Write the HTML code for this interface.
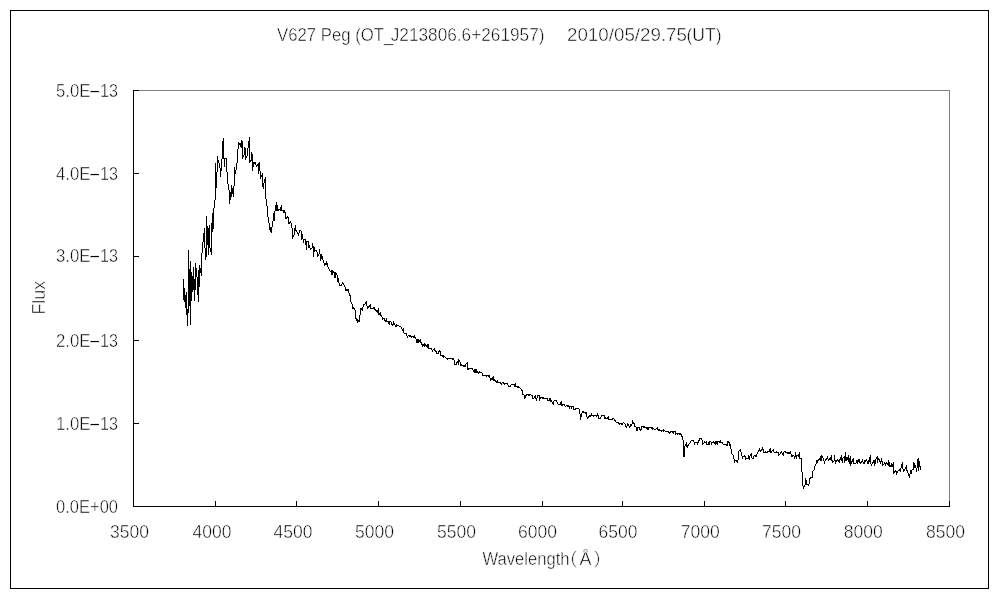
<!DOCTYPE html>
<html lang="en">
<head>
<meta charset="utf-8">
<title>V627 Peg spectrum</title>
<style>
html,body{margin:0;padding:0;background:#fff;}
body{width:1000px;height:600px;overflow:hidden;}
svg{display:block;will-change:transform;}
text{font-family:"Liberation Sans", "IPAGothic", sans-serif;font-size:18px;fill:#000;stroke:#fff;stroke-width:0.5px;paint-order:fill stroke;}
</style>
</head>
<body>
<svg width="1000" height="600" viewBox="0 0 1000 600">
<rect x="0" y="0" width="1000" height="600" fill="#fff"/>
<!-- outer chart border -->
<rect x="10.5" y="10.5" width="978" height="578" fill="none" stroke="#000" stroke-width="1" shape-rendering="crispEdges"/>
<!-- plot area border (grey top/right) -->
<path d="M133 90.5H949.5V506" fill="none" stroke="#808080" stroke-width="1" shape-rendering="crispEdges"/>
<!-- axes -->
<path d="M133.5 90V507M133 506.5H950" fill="none" stroke="#000" stroke-width="1" shape-rendering="crispEdges"/>
<path d="M215.5 501V506M296.5 501V506M378.5 501V506M460.5 501V506M542.5 501V506M622.5 501V506M704.5 501V506M785.5 501V506M867.5 501V506M949.5 501V506M134 90.5H139M134 173.5H139M134 256.5H139M134 340.5H139M134 423.5H139" fill="none" stroke="#000" stroke-width="1" shape-rendering="crispEdges"/>
<!-- title -->
<text y="41"><tspan x="277" textLength="116.3" lengthAdjust="spacingAndGlyphs">V627 Peg (OT_</tspan><tspan x="390.7" textLength="153.8" lengthAdjust="spacingAndGlyphs">J213806.6+261957)</tspan></text>
<text x="567" y="41" textLength="120" lengthAdjust="spacingAndGlyphs">2010/05/29.75</text>
<text x="686.5" y="41" textLength="35" lengthAdjust="spacingAndGlyphs">(UT)</text>
<!-- axis labels -->
<g><text x="110.0" y="538" textLength="39" lengthAdjust="spacingAndGlyphs">3500</text><text x="192.5" y="538" textLength="39" lengthAdjust="spacingAndGlyphs">4000</text><text x="273.5" y="538" textLength="39" lengthAdjust="spacingAndGlyphs">4500</text><text x="355.0" y="538" textLength="39" lengthAdjust="spacingAndGlyphs">5000</text><text x="437.0" y="538" textLength="39" lengthAdjust="spacingAndGlyphs">5500</text><text x="518.0" y="538" textLength="39" lengthAdjust="spacingAndGlyphs">6000</text><text x="598.5" y="538" textLength="39" lengthAdjust="spacingAndGlyphs">6500</text><text x="680.8" y="538" textLength="39" lengthAdjust="spacingAndGlyphs">7000</text><text x="762.0" y="538" textLength="39" lengthAdjust="spacingAndGlyphs">7500</text><text x="843.8" y="538" textLength="39" lengthAdjust="spacingAndGlyphs">8000</text><text x="926.0" y="538" textLength="39" lengthAdjust="spacingAndGlyphs">8500</text></g>
<g><text x="56" y="513" textLength="62" lengthAdjust="spacingAndGlyphs">0.0E+00</text><text y="430"><tspan x="56" textLength="34.5" lengthAdjust="spacingAndGlyphs">1.0E</tspan><tspan x="88.3" textLength="13" lengthAdjust="spacingAndGlyphs">-</tspan><tspan x="100" textLength="18" lengthAdjust="spacingAndGlyphs">13</tspan></text><text y="347"><tspan x="56" textLength="34.5" lengthAdjust="spacingAndGlyphs">2.0E</tspan><tspan x="88.3" textLength="13" lengthAdjust="spacingAndGlyphs">-</tspan><tspan x="100" textLength="18" lengthAdjust="spacingAndGlyphs">13</tspan></text><text y="262"><tspan x="56" textLength="34.5" lengthAdjust="spacingAndGlyphs">3.0E</tspan><tspan x="88.3" textLength="13" lengthAdjust="spacingAndGlyphs">-</tspan><tspan x="100" textLength="18" lengthAdjust="spacingAndGlyphs">13</tspan></text><text y="180"><tspan x="56" textLength="34.5" lengthAdjust="spacingAndGlyphs">4.0E</tspan><tspan x="88.3" textLength="13" lengthAdjust="spacingAndGlyphs">-</tspan><tspan x="100" textLength="18" lengthAdjust="spacingAndGlyphs">13</tspan></text><text y="97"><tspan x="56" textLength="34.5" lengthAdjust="spacingAndGlyphs">5.0E</tspan><tspan x="88.3" textLength="13" lengthAdjust="spacingAndGlyphs">-</tspan><tspan x="100" textLength="18" lengthAdjust="spacingAndGlyphs">13</tspan></text></g>
<text x="482.5" y="564.5" textLength="87" lengthAdjust="spacingAndGlyphs">Wavelength</text>
<text x="560" y="565.5">（</text>
<text x="579.5" y="564.5" textLength="12" lengthAdjust="spacingAndGlyphs">Å</text>
<text x="593" y="565.5">）</text>
<text transform="translate(45 314.5) rotate(-90)" textLength="33.5" lengthAdjust="spacingAndGlyphs">Flux</text>
<!-- spectrum -->
<path d="M183.5 279V300M184.5 288V302M185.5 295V308M186.5 292V315M187.5 309V326M188.5 250V313M189.5 269V306M190.5 261V325M191.5 272V301M192.5 276V292M193.5 267V290M194.5 279V301M195.5 263V290M196.5 268V277M197.5 277V295M198.5 270V302M199.5 265V287M200.5 268V273M201.5 253V276M202.5 242V253M203.5 233V242M204.5 228V248M205.5 248V260M206.5 216V257M207.5 226V245M208.5 228V255M209.5 225V248M210.5 248V252M211.5 223V255M212.5 213V232M213.5 208V229M214.5 200V208M215.5 163V200M216.5 172V188M217.5 156V172M218.5 160V163M219.5 163V168M220.5 168V177M221.5 159V171M222.5 141V159M223.5 138V159M224.5 158V167M225.5 158V159M226.5 158V172M227.5 172V184M228.5 184V190M229.5 190V204M230.5 192V200M231.5 185V197M232.5 188V194M233.5 186V197M234.5 167V186M235.5 170V174M236.5 163V170M237.5 149V163M238.5 142V149M239.5 143V145M240.5 143V147M241.5 140V148M242.5 141V159M243.5 155V157M244.5 147V155M245.5 148V160M246.5 156V158M247.5 148V156M248.5 141V148M249.5 137V163M250.5 160V162M251.5 152V161M252.5 154V171M253.5 162V167M254.5 162V164M255.5 162V165M256.5 165V167M257.5 164V166M258.5 163V174M259.5 162V171M260.5 171V179M261.5 175V177M262.5 173V187M263.5 183V189M264.5 179V183M265.5 177V199M266.5 199V206M267.5 206V217M268.5 217V223M269.5 223V230M270.5 227V232M271.5 227V233M272.5 221V227M273.5 213V221M274.5 211V221M275.5 205V211M276.5 202V211M277.5 205V211M278.5 209V211M279.5 209V210M280.5 207V211M281.5 205V211M282.5 210V211M283.5 210V213M284.5 210V213M285.5 212V219M286.5 217V219M287.5 216V218M288.5 217V224M289.5 222V224M290.5 221V223M291.5 223V228M292.5 228V239M293.5 235V237M294.5 228V235M295.5 225V231M296.5 230V232M297.5 232V234M298.5 233V236M299.5 230V233M300.5 230V231M301.5 231V240M302.5 234V239M303.5 239V243M304.5 239V240M305.5 239V245M306.5 241V250M307.5 241V242M308.5 241V248M309.5 245V248M310.5 248V250M311.5 248V249M312.5 243V248M313.5 246V257M314.5 247V252M315.5 250V251M316.5 250V252M317.5 252V257M318.5 254V256M319.5 249V254M320.5 254V261M321.5 254V259M322.5 256V260M323.5 260V263M324.5 263V266M325.5 263V265M326.5 261V265M327.5 263V267M328.5 267V269M329.5 269V271M330.5 271V272M331.5 270V275M332.5 270V275M333.5 271V273M334.5 272V278M335.5 272V278M336.5 273V275M337.5 275V282M338.5 278V283M339.5 283V286M340.5 285V286M341.5 284V286M342.5 282V284M343.5 283V285M344.5 285V287M345.5 287V291M346.5 289V291M347.5 289V291M348.5 289V293M349.5 293V296M350.5 295V302M351.5 302V304M352.5 304V309M353.5 307V309M354.5 308V310M355.5 310V319M356.5 318V321M357.5 319V323M358.5 320V322M359.5 315V322M360.5 308V315M361.5 308V310M362.5 307V311M363.5 304V307M364.5 304V305M365.5 302V304M366.5 301V306M367.5 306V309M368.5 306V308M369.5 305V307M370.5 304V309M371.5 308V309M372.5 308V309M373.5 307V309M374.5 307V310M375.5 309V311M376.5 310V312M377.5 310V313M378.5 308V315M379.5 313V315M380.5 312V316M381.5 315V317M382.5 317V320M383.5 318V319M384.5 318V321M385.5 320V322M386.5 318V322M387.5 321V322M388.5 321V324M389.5 321V325M390.5 321V322M391.5 322V325M392.5 324V326M393.5 321V325M394.5 323V325M395.5 325V327M396.5 324V327M397.5 325V326M398.5 325V326M399.5 326V327M400.5 326V327M401.5 327V329M402.5 329V331M403.5 328V333M404.5 333V334M405.5 333V334M406.5 333V336M407.5 336V338M408.5 335V336M409.5 335V337M410.5 335V337M411.5 336V338M412.5 336V337M413.5 336V338M414.5 335V338M415.5 337V339M416.5 339V343M417.5 339V343M418.5 339V343M419.5 340V342M420.5 339V343M421.5 342V345M422.5 344V347M423.5 344V346M424.5 343V347M425.5 344V346M426.5 345V347M427.5 344V348M428.5 344V349M429.5 348V349M430.5 348V349M431.5 348V350M432.5 350V352M433.5 349V350M434.5 348V351M435.5 350V352M436.5 351V354M437.5 353V354M438.5 351V354M439.5 350V352M440.5 351V356M441.5 355V356M442.5 355V357M443.5 355V358M444.5 356V357M445.5 357V358M446.5 358V359M447.5 358V360M448.5 358V359M449.5 358V359M450.5 358V359M451.5 358V359M452.5 358V360M453.5 358V360M454.5 360V365M455.5 364V365M456.5 362V365M457.5 361V363M458.5 359V365M459.5 360V362M460.5 362V366M461.5 364V366M462.5 365V366M463.5 365V367M464.5 365V367M465.5 364V367M466.5 363V364M467.5 362V370M468.5 368V370M469.5 368V369M470.5 368V369M471.5 368V369M472.5 368V370M473.5 370V372M474.5 369V373M475.5 369V373M476.5 369V373M477.5 371V373M478.5 372V374M479.5 371V373M480.5 372V373M481.5 372V373M482.5 373V376M483.5 375V376M484.5 375V376M485.5 375V376M486.5 375V377M487.5 375V376M488.5 375V377M489.5 375V378M490.5 378V381M491.5 378V380M492.5 377V380M493.5 376V381M494.5 379V381M495.5 380V382M496.5 381V383M497.5 380V383M498.5 382V383M499.5 382V383M500.5 382V384M501.5 383V385M502.5 382V383M503.5 382V384M504.5 383V385M505.5 383V384M506.5 383V384M507.5 383V385M508.5 385V387M509.5 386V387M510.5 385V387M511.5 384V385M512.5 384V385M513.5 384V385M514.5 384V387M515.5 383V387M516.5 386V387M517.5 386V388M518.5 386V388M519.5 387V388M520.5 388V389M521.5 389V391M522.5 390V395M523.5 394V395M524.5 395V399M525.5 395V398M526.5 394V396M527.5 394V395M528.5 394V396M529.5 394V396M530.5 394V395M531.5 395V396M532.5 395V399M533.5 398V399M534.5 396V398M535.5 395V399M536.5 398V401M537.5 395V398M538.5 395V396M539.5 395V401M540.5 397V399M541.5 397V398M542.5 397V399M543.5 397V399M544.5 398V399M545.5 398V399M546.5 398V399M547.5 398V401M548.5 400V401M549.5 398V401M550.5 398V402M551.5 400V402M552.5 402V404M553.5 401V405M554.5 400V401M555.5 400V401M556.5 400V402M557.5 402V404M558.5 404V405M559.5 404V405M560.5 402V405M561.5 401V406M562.5 404V406M563.5 404V405M564.5 404V406M565.5 406V407M566.5 405V406M567.5 405V407M568.5 405V407M569.5 406V409M570.5 406V407M571.5 406V409M572.5 406V407M573.5 406V410M574.5 409V410M575.5 408V410M576.5 408V409M577.5 408V409M578.5 408V409M579.5 409V414M580.5 414V420M581.5 413V417M582.5 411V413M583.5 411V413M584.5 412V413M585.5 412V414M586.5 412V417M587.5 417V419M588.5 416V418M589.5 415V417M590.5 415V417M591.5 413V416M592.5 415V416M593.5 415V417M594.5 415V416M595.5 415V416M596.5 415V417M597.5 413V416M598.5 415V419M599.5 418V419M600.5 417V419M601.5 415V417M602.5 415V416M603.5 415V416M604.5 415V419M605.5 417V419M606.5 418V419M607.5 417V419M608.5 416V420M609.5 419V420M610.5 419V420M611.5 419V420M612.5 418V420M613.5 418V419M614.5 419V421M615.5 420V422M616.5 422V423M617.5 422V423M618.5 422V424M619.5 423V425M620.5 423V424M621.5 423V425M622.5 423V425M623.5 422V423M624.5 423V424M625.5 424V427M626.5 426V428M627.5 423V426M628.5 424V426M629.5 426V428M630.5 424V427M631.5 424V426M632.5 420V424M633.5 422V424M634.5 423V427M635.5 426V427M636.5 427V431M637.5 427V431M638.5 427V428M639.5 427V430M640.5 429V431M641.5 426V430M642.5 426V427M643.5 426V428M644.5 426V428M645.5 427V428M646.5 427V429M647.5 427V430M648.5 427V430M649.5 427V428M650.5 427V428M651.5 427V429M652.5 427V430M653.5 428V429M654.5 429V430M655.5 429V430M656.5 428V429M657.5 427V430M658.5 429V431M659.5 429V431M660.5 430V431M661.5 430V432M662.5 430V431M663.5 429V432M664.5 430V431M665.5 431V432M666.5 431V432M667.5 431V432M668.5 431V433M669.5 432V434M670.5 431V433M671.5 431V432M672.5 431V433M673.5 431V434M674.5 431V432M675.5 431V435M676.5 433V434M677.5 433V435M678.5 433V434M679.5 433V435M680.5 433V435M681.5 434V437M682.5 436V440M683.5 440V457M684.5 446V457M685.5 444V446M686.5 442V447M687.5 445V448M688.5 444V446M689.5 443V444M690.5 441V443M691.5 440V441M692.5 440V441M693.5 440V442M694.5 442V445M695.5 442V443M696.5 442V443M697.5 442V445M698.5 440V443M699.5 438V441M700.5 438V439M701.5 438V440M702.5 440V445M703.5 443V444M704.5 441V443M705.5 442V443M706.5 441V445M707.5 444V445M708.5 442V445M709.5 441V445M710.5 441V442M711.5 442V445M712.5 442V443M713.5 441V443M714.5 442V444M715.5 441V445M716.5 441V444M717.5 441V445M718.5 441V442M719.5 441V443M720.5 440V443M721.5 442V443M722.5 442V444M723.5 444V445M724.5 444V445M725.5 444V445M726.5 444V446M727.5 441V446M728.5 441V443M729.5 442V446M730.5 444V449M731.5 449V454M732.5 454V455M733.5 455V459M734.5 459V463M735.5 460V461M736.5 460V462M737.5 460V463M738.5 451V460M739.5 450V451M740.5 449V452M741.5 452V456M742.5 456V459M743.5 456V457M744.5 455V457M745.5 456V460M746.5 458V459M747.5 458V459M748.5 455V459M749.5 456V460M750.5 454V456M751.5 453V458M752.5 458V459M753.5 456V459M754.5 455V456M755.5 455V457M756.5 454V457M757.5 452V454M758.5 450V452M759.5 448V451M760.5 450V452M761.5 449V451M762.5 447V450M763.5 449V453M764.5 452V453M765.5 451V453M766.5 452V453M767.5 451V453M768.5 451V452M769.5 449V452M770.5 448V453M771.5 451V453M772.5 450V451M773.5 449V452M774.5 452V453M775.5 452V453M776.5 451V453M777.5 452V453M778.5 452V456M779.5 454V455M780.5 452V454M781.5 451V453M782.5 453V455M783.5 452V456M784.5 451V452M785.5 451V453M786.5 452V453M787.5 452V454M788.5 452V454M789.5 452V454M790.5 451V454M791.5 454V457M792.5 455V457M793.5 455V456M794.5 456V459M795.5 452V457M796.5 455V459M797.5 455V456M798.5 454V457M799.5 452V459M800.5 458V459M801.5 458V472M802.5 472V486M803.5 486V489M804.5 485V487M805.5 478V485M806.5 480V485M807.5 484V485M808.5 484V486M809.5 478V484M810.5 477V479M811.5 477V478M812.5 471V478M813.5 470V471M814.5 466V470M815.5 464V466M816.5 460V464M817.5 460V463M818.5 459V461M819.5 458V460M820.5 456V461M821.5 455V461M822.5 456V458M823.5 458V461M824.5 461V464M825.5 459V461M826.5 458V460M827.5 456V459M828.5 459V461M829.5 458V460M830.5 457V460M831.5 455V461M832.5 460V463M833.5 461V462M834.5 455V461M835.5 460V464M836.5 460V462M837.5 459V461M838.5 460V462M839.5 459V463M840.5 457V460M841.5 455V461M842.5 458V463M843.5 457V458M844.5 456V463M845.5 452V461M846.5 457V461M847.5 457V460M848.5 455V462M849.5 458V464M850.5 456V466M851.5 461V464M852.5 459V462M853.5 458V464M854.5 463V464M855.5 463V464M856.5 460V463M857.5 460V464M858.5 459V462M859.5 459V463M860.5 462V464M861.5 461V463M862.5 459V462M863.5 462V464M864.5 460V464M865.5 460V462M866.5 459V461M867.5 461V464M868.5 460V464M869.5 457V462M870.5 455V464M871.5 464V466M872.5 462V464M873.5 460V463M874.5 460V466M875.5 459V464M876.5 457V459M877.5 456V463M878.5 458V460M879.5 459V462M880.5 461V464M881.5 458V462M882.5 461V466M883.5 464V465M884.5 462V464M885.5 463V466M886.5 462V464M887.5 463V465M888.5 460V466M889.5 462V467M890.5 465V467M891.5 463V467M892.5 464V467M893.5 462V474M894.5 471V473M895.5 470V472M896.5 471V475M897.5 471V473M898.5 470V471M899.5 469V471M900.5 468V472M901.5 464V468M902.5 462V469M903.5 469V472M904.5 469V471M905.5 467V469M906.5 465V471M907.5 470V473M908.5 473V476M909.5 474V478M910.5 470V474M911.5 470V474M912.5 469V470M913.5 462V470M914.5 463V468M915.5 465V468M916.5 468V472M917.5 459V468M918.5 458V471M919.5 461V467M920.5 466V470" fill="none" stroke="#000" stroke-width="1" shape-rendering="crispEdges"/>
</svg>
</body>
</html>
